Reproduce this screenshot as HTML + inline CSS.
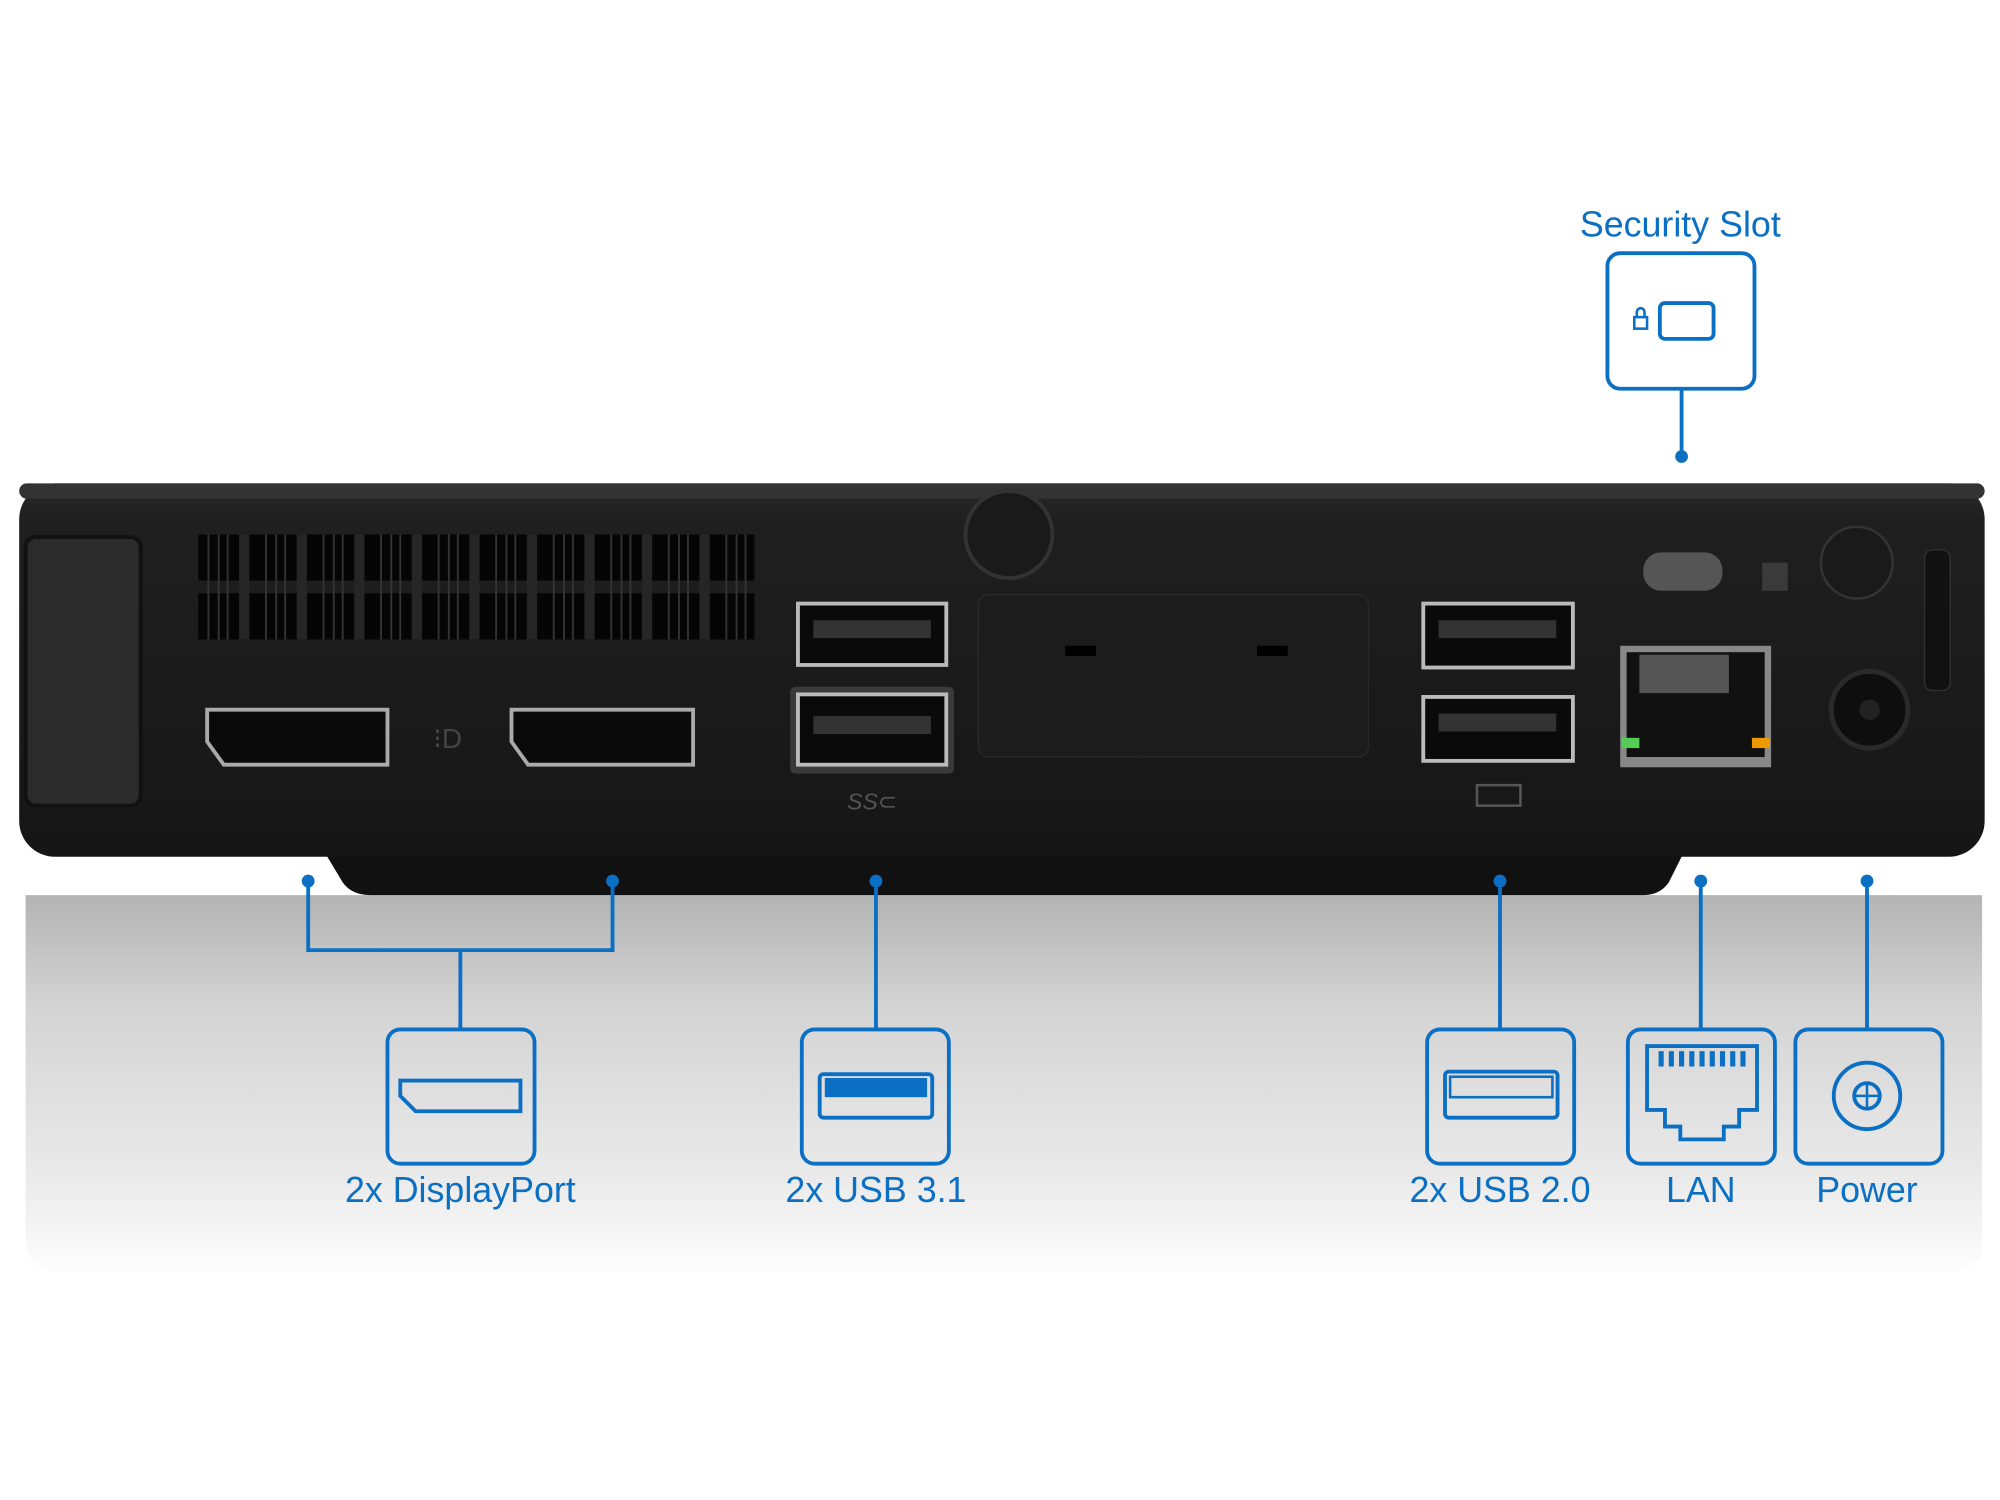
<!DOCTYPE html>
<html><head><meta charset="utf-8"><style>
html,body{margin:0;padding:0;background:#fff;}
svg{display:block}
text{font-family:"Liberation Sans","DejaVu Sans",sans-serif;fill:#0b6fc4}
</style></head><body>
<svg width="2000" height="1500" viewBox="0 0 1564 1173" preserveAspectRatio="none" xmlns="http://www.w3.org/2000/svg">
<defs>
<linearGradient id="refl" x1="0" y1="0" x2="0" y2="1">
<stop offset="0" stop-color="#b4b4b4"/><stop offset="0.3" stop-color="#d4d4d4"/><stop offset="0.75" stop-color="#ebebeb"/><stop offset="1" stop-color="#ffffff"/>
</linearGradient>
<linearGradient id="body" x1="0" y1="0" x2="0" y2="1">
<stop offset="0" stop-color="#2a2a2a"/><stop offset="0.1" stop-color="#1f1f1f"/><stop offset="1" stop-color="#161616"/>
</linearGradient>
</defs>
<rect width="1564" height="1173" fill="#fff"/>
<!-- reflection -->
<path d="M20 700 L1550 700 L1550 980 Q1540 1000 1500 1000 L60 1000 Q20 995 20 970 Z" fill="url(#refl)"/>
<!-- foot -->
<path d="M250 660 L1320 660 L1305 690 Q1298 700 1285 700 L290 700 Q275 700 268 690 Z" fill="#111"/>
<!-- body -->
<rect x="15" y="378" width="1537" height="292" rx="28" fill="url(#body)"/>
<rect x="15" y="378" width="1537" height="12" rx="6" fill="#333"/>
<!-- left block -->
<rect x="20" y="420" width="90" height="210" rx="8" fill="#2b2b2b" stroke="#111" stroke-width="3"/>
<!-- vents -->
<g fill="#050505">
<rect x="155" y="418" width="435" height="36"/><rect x="155" y="464" width="435" height="36"/>
</g>
<g fill="#262626">
<rect x="187" y="418" width="8" height="82"/><rect x="232" y="418" width="8" height="82"/><rect x="277" y="418" width="8" height="82"/><rect x="322" y="418" width="8" height="82"/><rect x="367" y="418" width="8" height="82"/><rect x="412" y="418" width="8" height="82"/><rect x="457" y="418" width="8" height="82"/><rect x="502" y="418" width="8" height="82"/><rect x="547" y="418" width="8" height="82"/>
</g>
<g stroke="#333" stroke-width="1.5">
<path d="M163 418V500M171 418V500M178 418V500M208 418V500M216 418V500M223 418V500M253 418V500M261 418V500M268 418V500M298 418V500M306 418V500M313 418V500M343 418V500M351 418V500M358 418V500M388 418V500M396 418V500M403 418V500M433 418V500M441 418V500M448 418V500M478 418V500M486 418V500M493 418V500M523 418V500M531 418V500M538 418V500M568 418V500M576 418V500M583 418V500"/>
</g>
<!-- screw -->
<circle cx="789" cy="418" r="34" fill="#1a1a1a" stroke="#333" stroke-width="3"/>
<!-- DP ports -->
<path d="M162 555 L303 555 L303 598 L175 598 L162 580 Z" fill="#0a0a0a" stroke="#aaa" stroke-width="3"/>
<path d="M400 555 L542 555 L542 598 L413 598 L400 580 Z" fill="#0a0a0a" stroke="#aaa" stroke-width="3"/>
<text x="350" y="585" font-size="22" style="fill:#444" text-anchor="middle">⁝D</text>
<!-- USB3 -->
<rect x="618" y="537" width="128" height="68" rx="4" fill="#3a3a3a"/>
<rect x="624" y="472" width="116" height="48" fill="#0a0a0a" stroke="#bbb" stroke-width="3"/>
<rect x="624" y="543" width="116" height="55" fill="#0a0a0a" stroke="#bbb" stroke-width="3"/>
<rect x="636" y="485" width="92" height="14" fill="#333"/><rect x="636" y="560" width="92" height="14" fill="#333"/>
<text x="682" y="633" font-size="18" style="fill:#555;font-style:italic" text-anchor="middle">SS⊂</text>
<!-- panel -->
<rect x="765" y="465" width="305" height="127" rx="8" fill="#1c1c1c" stroke="#2a2a2a"/>
<rect x="833" y="505" width="24" height="8" fill="#000"/><rect x="983" y="505" width="24" height="8" fill="#000"/>
<!-- USB2 -->
<rect x="1113" y="472" width="117" height="50" fill="#0a0a0a" stroke="#bbb" stroke-width="3"/>
<rect x="1113" y="545" width="117" height="50" fill="#0a0a0a" stroke="#bbb" stroke-width="3"/>
<rect x="1125" y="485" width="92" height="14" fill="#333"/><rect x="1125" y="558" width="92" height="14" fill="#333"/>
<rect x="1155" y="614" width="34" height="16" fill="none" stroke="#555" stroke-width="2"/>
<!-- LAN -->
<rect x="1267" y="505" width="118" height="95" fill="#888"/>
<rect x="1272" y="510" width="108" height="82" fill="#111"/>
<rect x="1282" y="512" width="70" height="30" fill="#555"/>
<rect x="1268" y="577" width="14" height="8" fill="#5c5"/><rect x="1370" y="577" width="14" height="8" fill="#e90"/>
<rect x="1285" y="432" width="62" height="30" rx="14" fill="#555"/>
<rect x="1378" y="440" width="20" height="22" fill="#3a3a3a"/>
<circle cx="1452" cy="440" r="28" fill="#1a1a1a" stroke="#333" stroke-width="2"/>
<!-- power jack -->
<circle cx="1462" cy="555" r="30" fill="#0e0e0e" stroke="#2a2a2a" stroke-width="4"/>
<circle cx="1462" cy="555" r="8" fill="#222"/>
<rect x="1505" y="430" width="20" height="110" rx="6" fill="#111" stroke="#333"/>
<!-- connectors -->
<g stroke="#0b6fc4" stroke-width="3" fill="none">
<path d="M241 689 V743 H479 V689 M360 743 V805"/>
<path d="M685 689 V805"/><path d="M1173 689 V805"/><path d="M1330 689 V805"/><path d="M1460 689 V805"/>
<path d="M1315 304 V357"/>
</g>
<g fill="#0b6fc4">
<circle cx="241" cy="689" r="5"/><circle cx="479" cy="689" r="5"/><circle cx="685" cy="689" r="5"/><circle cx="1173" cy="689" r="5"/><circle cx="1330" cy="689" r="5"/><circle cx="1460" cy="689" r="5"/><circle cx="1315" cy="357" r="5"/>
</g>
<!-- boxes -->
<g stroke="#0b6fc4" stroke-width="3" fill="none">
<rect x="303" y="805" width="115" height="105" rx="10"/>
<rect x="627" y="805" width="115" height="105" rx="10"/>
<rect x="1116" y="805" width="115" height="105" rx="10"/>
<rect x="1273" y="805" width="115" height="105" rx="10"/>
<rect x="1404" y="805" width="115" height="105" rx="10"/>
<rect x="1257" y="198" width="115" height="106" rx="10"/>
<path d="M313 845 H407 V869 H325 L313 857 Z"/>
<rect x="641" y="840" width="88" height="34" rx="3"/>
<rect x="1130" y="838" width="88" height="36" rx="3"/>
<rect x="1134" y="842" width="80" height="16" stroke-width="2"/>
<path d="M1288 818 H1374 V868 H1360 V881 H1348 V891 H1314 V881 H1302 V868 H1288 Z"/>
<circle cx="1460" cy="857" r="26"/><circle cx="1460" cy="857" r="10"/>
<path d="M1450 857 H1470 M1460 847 V867" stroke-width="2"/>
<rect x="1298" y="237" width="42" height="28" rx="4"/>
<rect x="1278" y="248" width="10" height="9" stroke-width="2"/>
<path d="M1280 248 V244 A3 3 0 0 1 1286 244 V248" stroke-width="2"/>
</g>
<rect x="645" y="843" width="80" height="15" fill="#0b6fc4"/>
<g fill="#0b6fc4"><rect x="1297" y="822" width="4" height="12"/><rect x="1305" y="822" width="4" height="12"/><rect x="1313" y="822" width="4" height="12"/><rect x="1321" y="822" width="4" height="12"/><rect x="1329" y="822" width="4" height="12"/><rect x="1337" y="822" width="4" height="12"/><rect x="1345" y="822" width="4" height="12"/><rect x="1353" y="822" width="4" height="12"/><rect x="1361" y="822" width="4" height="12"/></g>
<!-- labels -->
<g font-size="28" text-anchor="middle">
<text x="360" y="940">2x DisplayPort</text>
<text x="685" y="940">2x USB 3.1</text>
<text x="1173" y="940">2x USB 2.0</text>
<text x="1330" y="940">LAN</text>
<text x="1460" y="940">Power</text>
<text x="1314" y="185">Security Slot</text>
</g>
</svg>
</body></html>
